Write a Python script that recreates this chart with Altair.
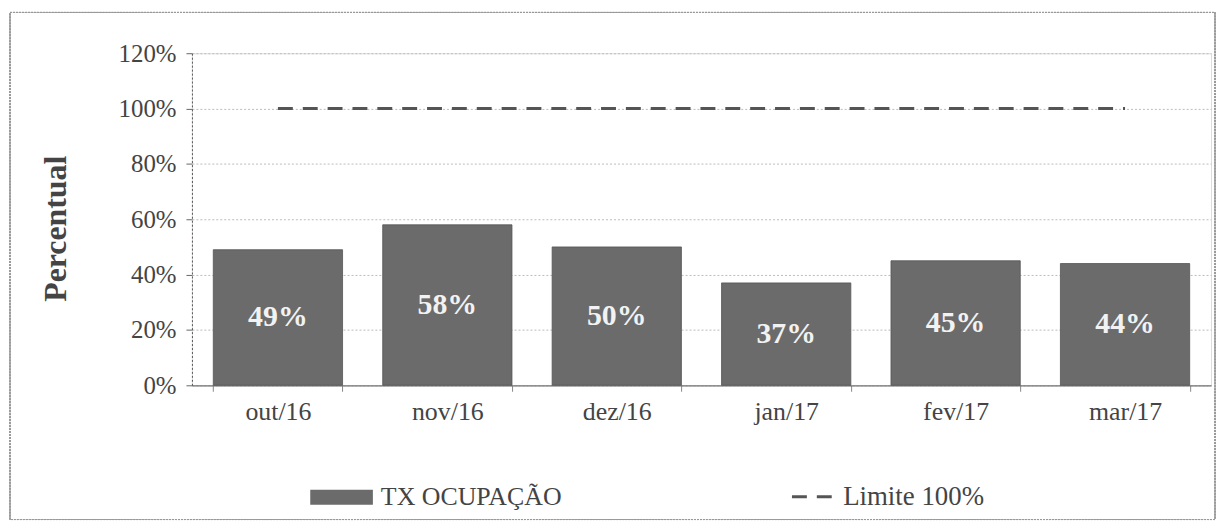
import altair as alt
import pandas as pd

months = ["out/16", "nov/16", "dez/16", "jan/17", "fev/17", "mar/17"]
ocupacao = [0.49, 0.58, 0.50, 0.37, 0.45, 0.44]
limite = [1.0, 1.0, 1.0, 1.0, 1.0, 1.0]
labels = ["49%", "58%", "50%", "37%", "45%", "44%"]
y_ticks = [0, 0.2, 0.4, 0.6, 0.8, 1.0, 1.2]

df = pd.DataFrame({
    "mes": months,
    "ocupacao": ocupacao,
    "limite": limite,
    "rotulo": labels,
    "s1": ["TX OCUPAÇÃO"] * len(months),
    "s2": ["Limite 100%"] * len(months),
})

FONT = "Liberation Serif"

x_enc = alt.X("mes:N", sort=months, title=None,
              scale=alt.Scale(paddingInner=0.237, paddingOuter=0.126),
              axis=alt.Axis(labelAngle=0, labelFont=FONT, labelFontSize=26,
                            labelColor="#444", labelPadding=7, tickBand="extent",
                            tickSize=6, tickColor="#888", domainColor="#777",
                            domainWidth=1.2))

y_scale = alt.Scale(domain=[0, 1.2], nice=False)

bars = alt.Chart(df).mark_bar(stroke="#555", strokeWidth=0.8).encode(
    x=x_enc,
    y=alt.Y("ocupacao:Q", scale=y_scale, title="Percentual",
            axis=alt.Axis(values=y_ticks, format=".0%", labelFont=FONT,
                          labelFontSize=25, labelColor="#444", labelPadding=10,
                          tickSize=6, tickColor="#666", domainColor="#555",
                          domainDash=[2, 2], gridColor="#bbb", gridDash=[2, 2],
                          titleFont=FONT, titleFontSize=32, titleFontWeight="bold",
                          titleColor="#444", titleX=-137, titleY=176,
                          titleAngle=270, titleAlign="center",
                          titleBaseline="middle")),
    color=alt.Color("s1:N", title=None,
                    scale=alt.Scale(range=["#6b6b6b"]),
                    legend=alt.Legend(orient="none", legendX=119, legendY=415,
                                      symbolType="M-1,-0.24H1V0.24H-1Z",
                                      symbolSize=3969, symbolStrokeWidth=0,
                                      labelFont=FONT, labelFontSize=26,
                                      labelLimit=500,
                                      labelColor="#444", labelOffset=8)),
)

text = alt.Chart(df).transform_calculate(
    ypos="datum.ocupacao / 2"
).mark_text(font=FONT, fontSize=30, fontWeight="bold", color="#f2f2f2",
            baseline="middle").encode(
    x=alt.X("mes:N", sort=months),
    y=alt.Y("ypos:Q", scale=y_scale),
    text="rotulo:N",
)

line = alt.Chart(df).mark_line(strokeWidth=3, color="#555").encode(
    x=alt.X("mes:N", sort=months),
    y=alt.Y("limite:Q", scale=y_scale),
    strokeDash=alt.StrokeDash("s2:N", title=None,
                              scale=alt.Scale(range=[[15, 10]]),
                              legend=alt.Legend(orient="none", legendX=602, legendY=422,
                                                symbolType="stroke", symbolSize=2025,
                                                symbolStrokeWidth=3,
                                                symbolDash=[11, 6],
                                                symbolStrokeColor="#555",
                                                labelFont=FONT, labelFontSize=27,
                                                labelLimit=500,
                                                labelColor="#444", labelOffset=5)),
)

border = alt.Chart(df).mark_rect(fill=None, stroke="#999", strokeWidth=1,
                                 strokeDash=[2, 1]).encode(
    x=alt.value(-183), x2=alt.value(1029), y=alt.value(-41), y2=alt.value(469)
)

chart = alt.layer(border, bars, text, line).properties(
    width=1025, height=334,
    padding={"left": 185, "top": 44, "right": 5, "bottom": 137},
    autosize=alt.AutoSizeParams(type="none"),
).configure_view(stroke=None).configure(background="white", font=FONT)

chart.save("out.html", embed_options={"renderer": "svg", "actions": False})
